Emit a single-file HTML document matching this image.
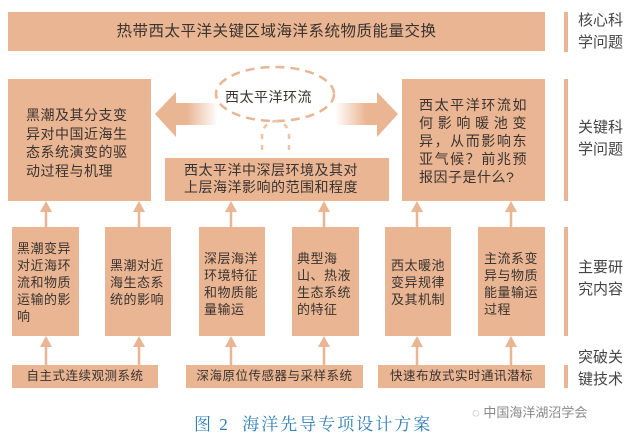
<!DOCTYPE html>
<html><head><meta charset="utf-8"><style>
body{margin:0;width:640px;height:437px;background:#fff;position:relative;overflow:hidden;font-family:"Liberation Sans","Noto Sans CJK SC",sans-serif;color:#3a3330}
.b{position:absolute;background:#e9b592}
.t{position:absolute;font-size:13px;line-height:17px;letter-spacing:0.5px}
.d{position:absolute;left:564px;width:4px;background:#e9b592}
.l{position:absolute;left:578px;font-size:15px;line-height:22px;color:#444}
.j{display:block;text-align:justify;text-align-last:justify}
</style></head><body>
<div class="b" style="left:8px;top:12px;width:537px;height:39px"></div>
<div class="t" style="left:8px;top:22px;width:537px;text-align:center;font-size:15.5px;line-height:20px">热带西太平洋关键区域海洋系统物质能量交换</div>
<div class="d" style="top:12px;height:40px"></div>
<div class="l" style="top:10px">核心科<br>学问题</div>

<div class="b" style="left:8px;top:79px;width:143px;height:122px"></div>
<div class="t" style="left:26px;top:106px;width:108px;font-size:14px;line-height:18.5px">黑潮及其分支变<br>异对中国近海生<br>态系统演变的驱<br>动过程与机理</div>
<div class="b" style="left:402px;top:79px;width:143px;height:122px"></div>
<div class="t" style="left:419px;top:96px;width:108px;font-size:14px;line-height:18px"><span class="j">西太平洋环流如</span><span class="j">何影响暖池变</span><span class="j">异，从而影响东</span><span class="j">亚气候？前兆预</span>报因子是什么?</div>
<div class="b" style="left:165px;top:158px;width:224px;height:43px"></div>
<div class="t" style="left:184px;top:162px;font-size:14px;line-height:17px">西太平洋中深层环境及其对<br>上层海洋影响的范围和程度</div>
<div class="d" style="top:79px;height:122px"></div>
<div class="l" style="top:117px">关键科<br>学问题</div>

<svg style="position:absolute;left:0;top:0" width="640" height="437">
<defs>
<linearGradient id="gl" x1="0" x2="1"><stop offset="0.5" stop-color="#e9b592"/><stop offset="1" stop-color="#e9b592" stop-opacity="0"/></linearGradient>
<linearGradient id="gr" x1="1" x2="0"><stop offset="0.5" stop-color="#e9b592"/><stop offset="1" stop-color="#e9b592" stop-opacity="0"/></linearGradient>
</defs>
<polygon points="155,114 176,92 176,103 218,103 218,125 176,125 176,137" fill="url(#gl)"/>
<polygon points="398,114 377,92 377,103 335,103 335,125 377,125 377,137" fill="url(#gr)"/>
<ellipse cx="275" cy="94" rx="59" ry="27" fill="none" stroke="#e9b592" stroke-width="2.5" stroke-dasharray="9,6"/>
<path d="M262,150 L262,135 Q263,123 276,121 M289,150 L289,135 Q288,123 276,121" fill="none" stroke="#eec4a6" stroke-width="2.5" stroke-dasharray="5,6"/>
<g stroke="#e9b592" stroke-width="2.5" fill="#e9b592">
<line x1="46" y1="210" x2="46" y2="227"/><line x1="139" y1="210" x2="139" y2="227"/><line x1="231" y1="210" x2="231" y2="227"/><line x1="324" y1="210" x2="324" y2="227"/><line x1="417" y1="210" x2="417" y2="227"/><line x1="511" y1="210" x2="511" y2="227"/>
<line x1="46" y1="345" x2="46" y2="365"/><line x1="139" y1="345" x2="139" y2="365"/><line x1="231" y1="345" x2="231" y2="365"/><line x1="324" y1="345" x2="324" y2="365"/><line x1="417" y1="345" x2="417" y2="365"/><line x1="511" y1="345" x2="511" y2="365"/>
</g>
<g fill="#e9b592">
<polygon points="46,201 40,212 52,212"/><polygon points="139,201 133,212 145,212"/><polygon points="231,201 225,212 237,212"/><polygon points="324,201 318,212 330,212"/><polygon points="417,201 411,212 423,212"/><polygon points="511,201 505,212 517,212"/>
<polygon points="46,336 40,347 52,347"/><polygon points="139,336 133,347 145,347"/><polygon points="231,336 225,347 237,347"/><polygon points="324,336 318,347 330,347"/><polygon points="417,336 411,347 423,347"/><polygon points="511,336 505,347 517,347"/>
</g>
</svg>
<div class="t" style="left:225px;top:88px;font-size:14px;line-height:18px">西太平洋环流</div>

<div class="b" style="left:12px;top:227px;width:67px;height:109px"></div>
<div class="t" style="left:17px;top:240px;width:60px">黑潮变异对近海环流和物质运输的影响</div>
<div class="b" style="left:105px;top:227px;width:66px;height:109px"></div>
<div class="t" style="left:110px;top:257px;width:60px">黑潮对近海生态系统的影响</div>
<div class="b" style="left:199px;top:227px;width:66px;height:109px"></div>
<div class="t" style="left:204px;top:250px;width:60px">深层海洋环境特征和物质能量输运</div>
<div class="b" style="left:292px;top:227px;width:67px;height:109px"></div>
<div class="t" style="left:297px;top:250px;width:60px">典型海<br>山、热液生态系统的特征</div>
<div class="b" style="left:385px;top:227px;width:66px;height:109px"></div>
<div class="t" style="left:391px;top:257px;width:60px">西太暖池变异规律及其机制</div>
<div class="b" style="left:478px;top:227px;width:67px;height:109px"></div>
<div class="t" style="left:484px;top:250px;width:60px">主流系变异与物质能量输运过程</div>
<div class="d" style="top:227px;height:109px"></div>
<div class="l" style="top:257px">主要研<br>究内容</div>

<div class="b" style="left:12px;top:365px;width:146px;height:23px"></div>
<div class="t" style="left:12px;top:368px;width:146px;text-align:center;font-size:12.5px">自主式连续观测系统</div>
<div class="b" style="left:186px;top:365px;width:177px;height:23px"></div>
<div class="t" style="left:186px;top:368px;width:177px;text-align:center;font-size:12.5px">深海原位传感器与采样系统</div>
<div class="b" style="left:378px;top:365px;width:167px;height:23px"></div>
<div class="t" style="left:378px;top:368px;width:167px;text-align:center;font-size:12.5px">快速布放式实时通讯潜标</div>
<div class="d" style="top:365px;height:23px"></div>
<div class="l" style="top:347px">突破关<br>键技术</div>

<div style="position:absolute;left:194px;top:410px;font-family:'Liberation Serif','Noto Serif CJK SC',serif;font-size:17px;color:#2d7db9;letter-spacing:2px">图 2&nbsp; 海洋先导专项设计方案</div>
<div style="position:absolute;left:472px;top:402px;font-size:13px;color:#888">◌ 中国海洋湖沼学会</div>
</body></html>
